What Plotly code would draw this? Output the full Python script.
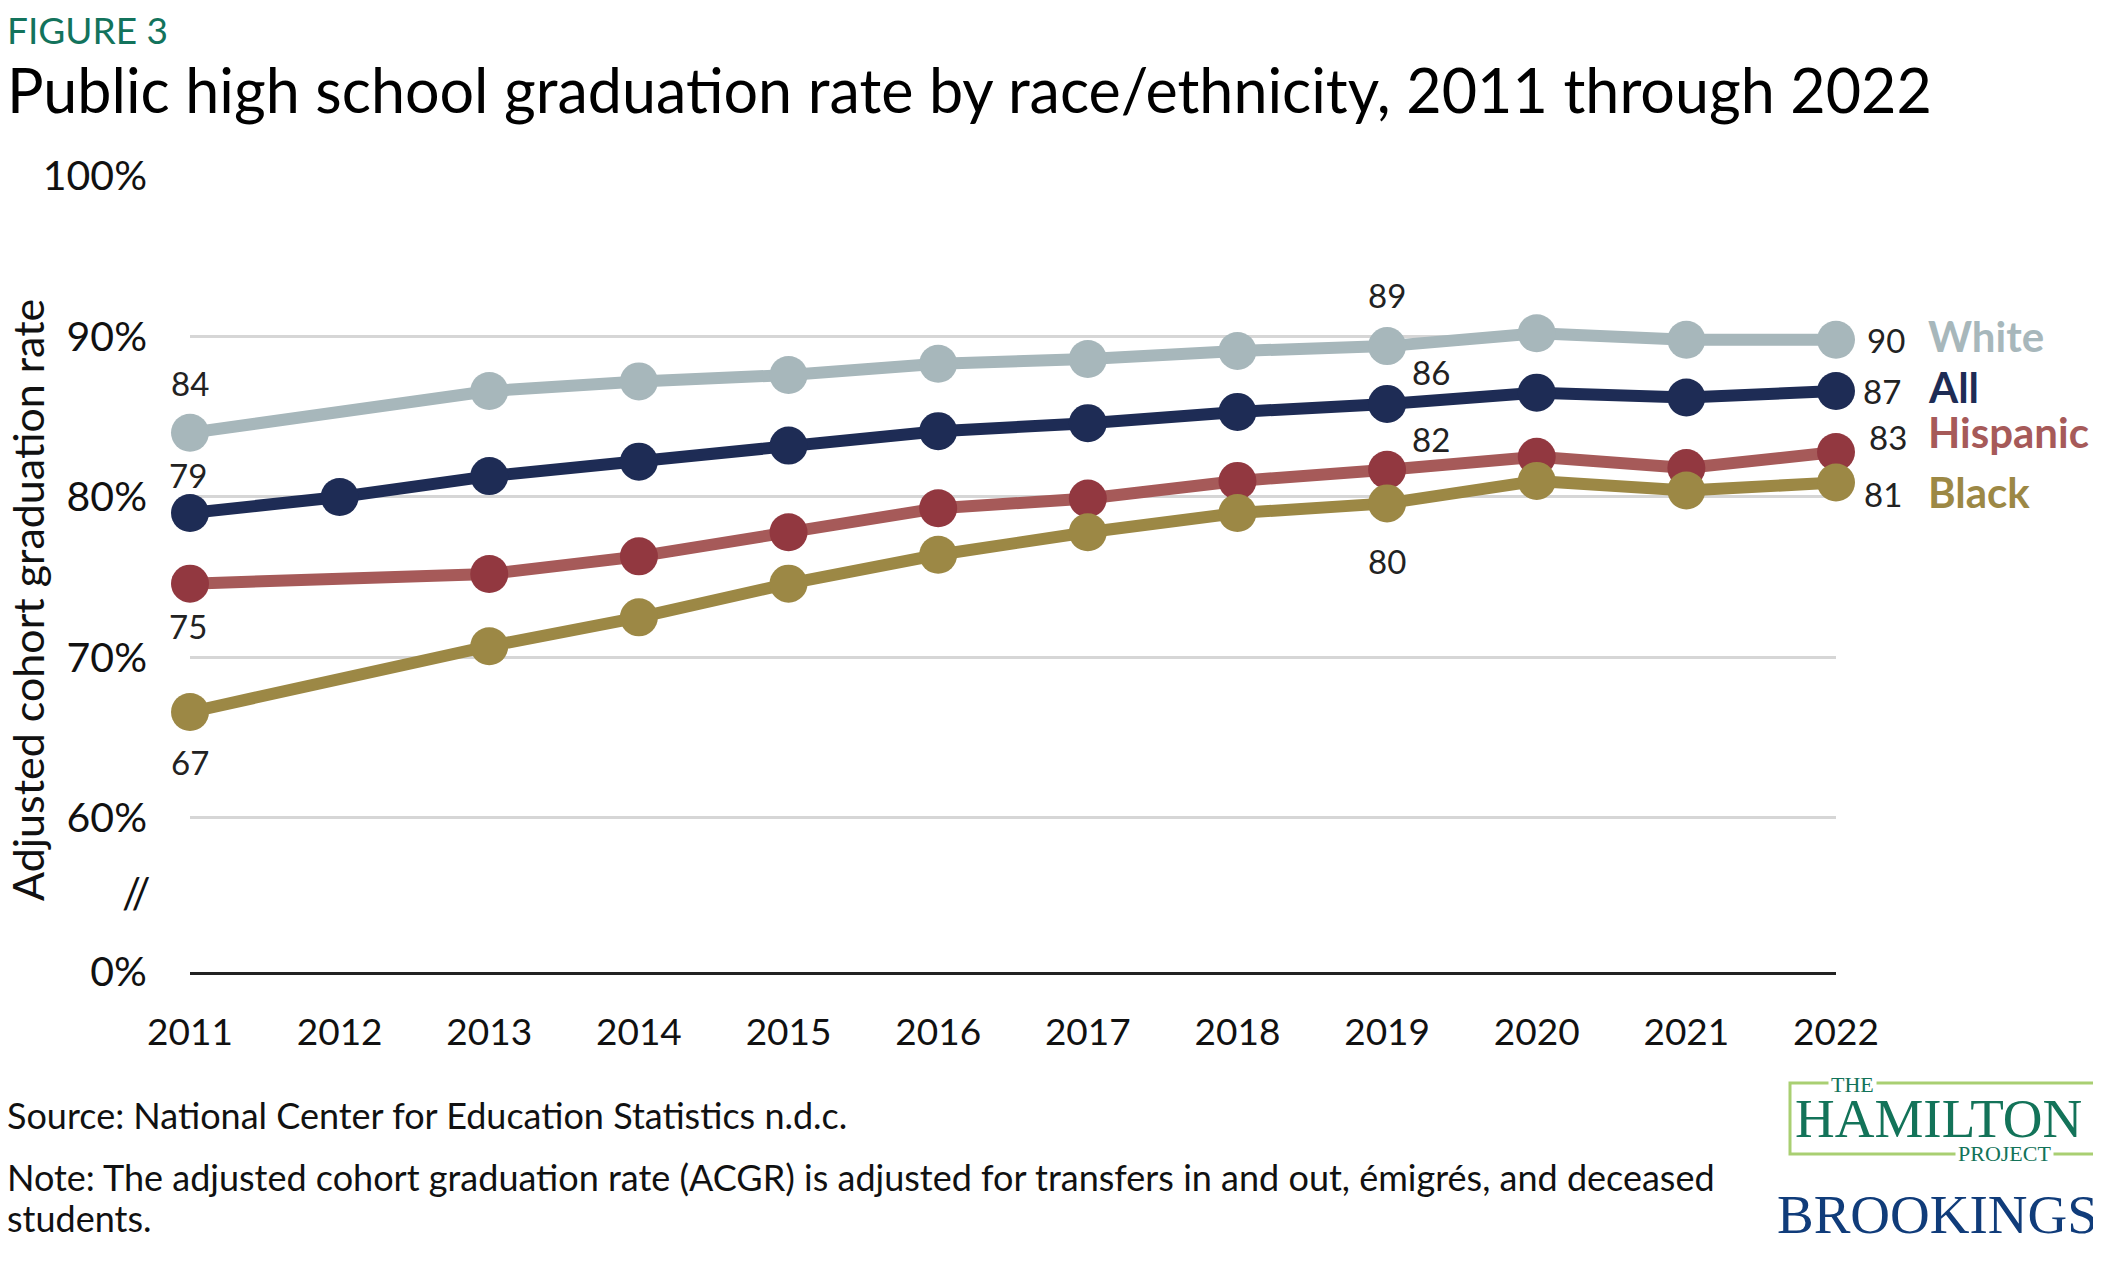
import plotly.graph_objects as go

# ACGR by race/ethnicity (percent)
years = [2011, 2012, 2013, 2014, 2015, 2016, 2017, 2018, 2019, 2020, 2021, 2022]
all_students = [79.0, 80.0, 81.3, 82.2, 83.2, 84.1, 84.6, 85.3, 85.8, 86.5, 86.2, 86.6]
white = [84.0, None, 86.6, 87.2, 87.6, 88.3, 88.6, 89.1, 89.4, 90.2, 89.8, 89.8]
hispanic = [74.6, None, 75.2, 76.3, 77.8, 79.3, 79.9, 81.0, 81.7, 82.5, 81.8, 82.8]
black = [66.6, None, 70.7, 72.5, 74.6, 76.4, 77.8, 79.0, 79.6, 81.0, 80.4, 80.9]

# axis is broken below 60%, the "0%" tick sits at this value
axis_floor = 50.4
tick_vals = [axis_floor, 60, 70, 80, 90, 100]
tick_text = ['0%', '60%', '70%', '80%', '90%', '100%']

FONT = 'Lato'
W, H = 2101, 1266
L, R, T, B = 182, 273, 168, 302
pw, ph = W - L - R, H - T - B


def px(x):
    return (x - L) / pw


def py(y):
    return (H - B - y) / ph


series = [
    # name, values, line colour, marker colour
    ('White', white, '#a7b7bb', '#a7b7bb'),
    ('All', all_students, '#1e2c55', '#1e2c55'),
    ('Hispanic', hispanic, '#a65a59', '#923840'),
    ('Black', black, '#9c8845', '#9c8845'),
]

fig = go.Figure()
for name, vals, lc, mc in series:
    xs = [y for y, v in zip(years, vals) if v is not None]
    ys = [v for v in vals if v is not None]
    fig.add_trace(go.Scatter(x=xs, y=ys, mode='lines+markers', name=name,
                             line=dict(color=lc, width=12),
                             marker=dict(color=mc, size=38),
                             cliponaxis=False, showlegend=False))

# data labels: (series values, year, dx, dy) offsets in pixels
labels = [
    (white, 2011, 0, 50), (all_students, 2011, -2, 38),
    (hispanic, 2011, -2, -42), (black, 2011, 0, -50),
    (white, 2019, 0, 51), (all_students, 2019, 44, 32),
    (hispanic, 2019, 44, 31), (black, 2019, 0, -58),
    (white, 2022, 50, 0), (all_students, 2022, 46, 0),
    (hispanic, 2022, 52, 15), (black, 2022, 47, -11),
]
for vals, yr, dx, dy in labels:
    v = vals[years.index(yr)]
    fig.add_annotation(x=yr, y=v, text=str(round(v)), showarrow=False,
                       xanchor='center', yanchor='middle',
                       xshift=dx, yshift=dy, font=dict(family=FONT, size=33, color='#222'))

# series names at the right end
name_shift = [4, 4, 20, -9]
for (name, vals, lc, mc), dy in zip(series, name_shift):
    fig.add_annotation(x=2022, y=vals[-1], text=name, showarrow=False,
                       xanchor='left', yanchor='middle', xshift=90, yshift=dy,
                       font=dict(family=FONT, size=42, color=lc, weight=700))

# axis break mark
fig.add_annotation(x=0, xref='paper', y=55.4, yref='y', text='//', showarrow=False,
                   xanchor='right', yanchor='middle', xshift=-37,
                   font=dict(family=FONT, size=42, color='#111'))

# y-axis title
fig.add_annotation(x=px(19), y=py(592), xref='paper', yref='paper',
                   text='Adjusted cohort graduation rate', textangle=-90,
                   xanchor='center', yanchor='middle', showarrow=False,
                   font=dict(family=FONT, size=43, color='#111'))

# heading
fig.add_annotation(x=px(-3), y=py(22), xref='paper', yref='paper', text='FIGURE 3',
                   showarrow=False, xanchor='left', yanchor='middle',
                   font=dict(family=FONT, size=37, color='#13735c'))
fig.add_annotation(x=px(-3), y=py(82), xref='paper', yref='paper',
                   text='Public high school graduation rate by race/ethnicity, 2011 through 2022',
                   showarrow=False, xanchor='left', yanchor='middle',
                   font=dict(family=FONT, size=61, color='#000'))

# footer
foot = dict(family=FONT, size=36, color='#111')
fig.add_annotation(x=px(-3), y=py(1107), xref='paper', yref='paper',
                   text='Source: National Center for Education Statistics n.d.c.',
                   showarrow=False, xanchor='left', yanchor='middle', font=foot)
fig.add_annotation(x=px(-3), y=py(1169), xref='paper', yref='paper',
                   text='Note: The adjusted cohort graduation rate (ACGR) is adjusted for transfers in and out, '
                        'émigrés, and deceased',
                   showarrow=False, xanchor='left', yanchor='middle', font=foot)
fig.add_annotation(x=px(-3), y=py(1210), xref='paper', yref='paper', text='students.',
                   showarrow=False, xanchor='left', yanchor='middle', font=foot)

# logos
fig.add_shape(type='rect', xref='paper', yref='paper', x0=px(1782), x1=px(2097), y0=py(1075), y1=py(1146),
              line=dict(color='#a9cf72', width=3), fillcolor='rgba(0,0,0,0)')
fig.add_annotation(x=px(1844), y=py(1076), xref='paper', yref='paper', text='THE', showarrow=False,
                   xanchor='center', yanchor='middle', bgcolor='white', borderpad=2,
                   font=dict(family='Liberation Serif', size=22, color='#137359'))
fig.add_annotation(x=px(1930), y=py(1110), xref='paper', yref='paper', text='HAMILTON', showarrow=False,
                   xanchor='center', yanchor='middle',
                   font=dict(family='Liberation Serif', size=55, color='#137359'))
fig.add_annotation(x=px(1997), y=py(1145), xref='paper', yref='paper', text='PROJECT', showarrow=False,
                   xanchor='center', yanchor='middle', bgcolor='white', borderpad=2,
                   font=dict(family='Liberation Serif', size=22, color='#137359'))
fig.add_annotation(x=px(1929), y=py(1206), xref='paper', yref='paper', text='BROOKINGS', showarrow=False,
                   xanchor='center', yanchor='middle',
                   font=dict(family='Liberation Serif', size=55, color='#103c7a'))

fig.update_xaxes(range=[2011, 2022], tickvals=years, showgrid=False, zeroline=False,
                 showline=True, linecolor='#222', linewidth=2.5, ticks='',
                 ticklabelstandoff=26, tickfont=dict(family=FONT, size=37, color='#111'))
fig.update_yaxes(range=[axis_floor, 100], tickvals=tick_vals, ticktext=tick_text,
                 showgrid=True, gridcolor='#d6d6d6', gridwidth=2.5, zeroline=False,
                 ticks='', ticklabelstandoff=42, tickfont=dict(family=FONT, size=41, color='#111'))
fig.update_layout(width=W, height=H, margin=dict(l=L, r=R, t=T, b=B),
                  plot_bgcolor='white', paper_bgcolor='white')
fig.write_html('out.html')
